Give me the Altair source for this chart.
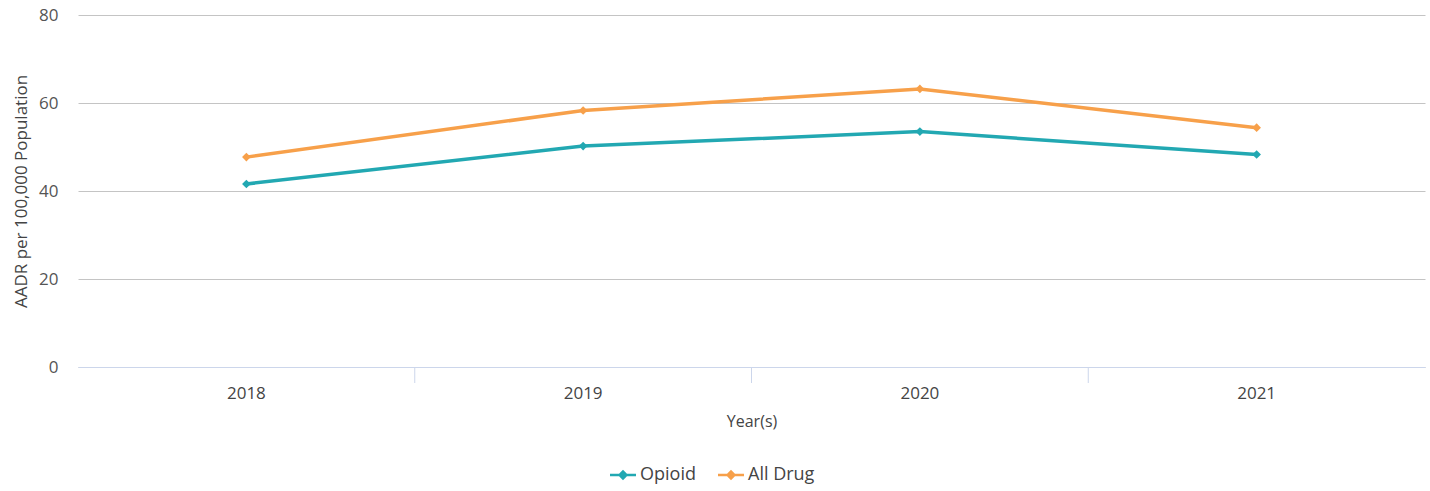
import altair as alt
import pandas as pd

years = ["2018", "2019", "2020", "2021"]
opioid = [41.6, 50.2, 53.5, 48.3]
all_drug = [47.7, 58.3, 63.2, 54.4]
series = ["Opioid", "All Drug"]
colors = ["#22a8b2", "#f7a04a"]

rows = []
for y, v in zip(years, opioid):
    rows.append({"Year": y, "Value": v, "Series": "Opioid"})
for y, v in zip(years, all_drug):
    rows.append({"Year": y, "Value": v, "Series": "All Drug"})
df = pd.DataFrame(rows)
ticks_df = pd.DataFrame({"Year": years[1:]})

FONT = "Open Sans"
xscale = alt.Scale(type="band", paddingInner=0, paddingOuter=0, domain=years)
xaxis = alt.Axis(title="Year(s)", labelAngle=0, grid=False, ticks=False,
                 bandPosition=0.5, domainColor="#ccd6eb",
                 labelFontSize=17, labelColor="#444", labelPadding=18,
                 titleFontSize=16, titleFontWeight="normal", titleColor="#444",
                 titlePadding=12, labelFont=FONT, titleFont=FONT)

x = alt.X("Year:O", bandPosition=0.5, scale=xscale, axis=xaxis)
y = alt.Y("Value:Q", scale=alt.Scale(domain=[0, 80]),
          axis=alt.Axis(title="AADR per 100,000 Population", values=[0, 20, 40, 60, 80],
                        domain=False, ticks=False, gridColor="#c4c4c4", gridWidth=1,
                        labelFontSize=17, labelColor="#555", labelPadding=20,
                        titleFontSize=17, titleFontWeight="normal", titleColor="#444",
                        titlePadding=8, labelFont=FONT, titleFont=FONT))
color = alt.Color("Series:N", scale=alt.Scale(domain=series, range=colors),
                  legend=alt.Legend(title=None, orient="none", direction="horizontal",
                                    legendX=532, legendY=447, labelFontSize=18,
                                    labelFont=FONT, labelColor="#444",
                                    symbolType="M-1,-0.1L1,-0.1L1,0.1L-1,0.1Z M0,-0.4L0.4,0L0,0.4L-0.4,0Z",
                                    symbolSize=676, symbolStrokeWidth=0, columnPadding=22,
                                    labelOffset=4))

base = alt.Chart(df)
lines = base.mark_line(strokeWidth=3.5).encode(x=x, y=y, color=color)
pts = base.mark_point(shape="diamond", filled=True, size=75, opacity=1).encode(
    x=x, y=y, color=alt.Color("Series:N", scale=alt.Scale(domain=series, range=colors), legend=None))
tickmarks = alt.Chart(ticks_df).mark_rule(color="#ccd6eb", strokeWidth=1).encode(
    x=alt.X("Year:O", bandPosition=0, scale=xscale, axis=xaxis),
    y=alt.value(352), y2=alt.value(368))

chart = (lines + pts + tickmarks).properties(
    width=1347, height=352,
    background="white",
    autosize=alt.AutoSizeParams(type="none"),
    padding={"left": 78, "top": 15, "right": 5, "bottom": 124},
).configure_view(stroke=None, strokeWidth=0)

chart.save("out.html", embed_options={"renderer": "svg", "actions": False})
